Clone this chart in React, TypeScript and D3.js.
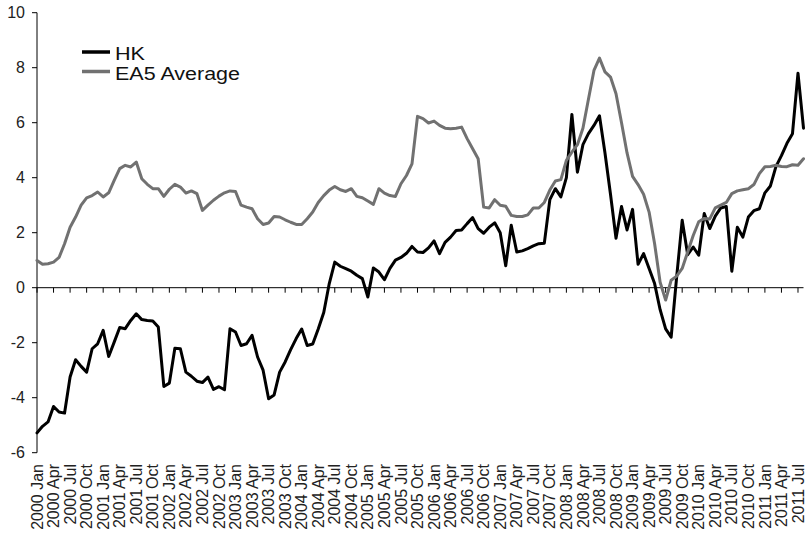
import React from "react";
import * as d3 from "d3";

const YEARS = [2000, 2001, 2002, 2003, 2004, 2005, 2006, 2007, 2008, 2009, 2010, 2011];
const MONTHS = ["Jan", "Feb", "Mar", "Apr", "May", "Jun", "Jul", "Aug", "Sep", "Oct", "Nov", "Dec"];
const N_MONTHS = 140; // 2000 Jan .. 2011 Aug
const Y_TICKS = [-6, -4, -2, 0, 2, 4, 6, 8, 10];

const HK = [
  -5.28, -5.04, -4.88, -4.32, -4.52, -4.56, -3.25, -2.62, -2.86, -3.07,
  -2.22, -2.04, -1.55, -2.5, -1.98, -1.45, -1.49, -1.19, -0.95, -1.16,
  -1.19, -1.21, -1.43, -3.59, -3.47, -2.2, -2.22, -3.07, -3.22, -3.4,
  -3.45, -3.25, -3.7, -3.6, -3.71, -1.49, -1.61, -2.1, -2.04, -1.73,
  -2.52, -3.0, -4.04, -3.9, -3.07, -2.7, -2.25, -1.85, -1.5, -2.1,
  -2.05, -1.5, -0.9, 0.15, 0.93, 0.78, 0.69, 0.6, 0.45, 0.33,
  -0.34, 0.72, 0.57, 0.29, 0.7, 1.0, 1.1, 1.25, 1.5, 1.3,
  1.28, 1.45, 1.7, 1.24, 1.65, 1.84, 2.08, 2.1, 2.33, 2.55,
  2.15, 1.98, 2.2, 2.36, 2.0, 0.8, 2.27, 1.3, 1.34, 1.42,
  1.52, 1.6, 1.62, 3.2, 3.6, 3.3, 4.0, 6.3, 4.2, 5.2,
  5.6, 5.9, 6.25, 4.9, 3.4, 1.8, 2.95, 2.1, 2.85, 0.85,
  1.24, 0.7, 0.15, -0.8, -1.5, -1.8, 0.39, 2.45, 1.2, 1.48,
  1.18, 2.7, 2.15, 2.6, 2.9, 2.95, 0.6, 2.2, 1.84, 2.57,
  2.8, 2.87, 3.45, 3.7, 4.4, 4.8, 5.25, 5.6, 7.8, 5.8,
];

const EA5 = [
  0.99, 0.85, 0.87, 0.93, 1.1, 1.6, 2.2, 2.57, 3.0, 3.27,
  3.35, 3.48, 3.3, 3.45, 3.9, 4.33, 4.45, 4.39, 4.57, 3.96,
  3.76, 3.6, 3.6, 3.32, 3.58, 3.76, 3.66, 3.44, 3.52, 3.42,
  2.81, 3.0, 3.18, 3.33, 3.45, 3.52, 3.5, 3.0, 2.93, 2.87,
  2.51, 2.3, 2.35, 2.59, 2.57, 2.47, 2.38, 2.3, 2.3, 2.51,
  2.75, 3.1, 3.35, 3.55, 3.68, 3.56, 3.5, 3.6, 3.32, 3.27,
  3.15, 3.03, 3.6, 3.44, 3.35, 3.32, 3.78, 4.08, 4.5, 6.23,
  6.15, 5.99, 6.06, 5.9, 5.8, 5.78, 5.8, 5.84, 5.42, 5.05,
  4.69, 2.93, 2.9, 3.2, 3.0, 2.96, 2.63, 2.59, 2.59, 2.65,
  2.9, 2.9, 3.1, 3.55, 3.88, 3.93, 4.63, 4.93, 5.2, 5.8,
  6.85, 7.9, 8.35, 7.85, 7.66, 7.05, 6.0, 4.9, 4.05, 3.75,
  3.4, 2.75, 1.6, 0.2, -0.45, 0.27, 0.42, 0.7, 1.3, 1.9,
  2.4, 2.52, 2.5, 2.9, 3.0, 3.1, 3.42, 3.52, 3.56, 3.6,
  3.75, 4.15, 4.4, 4.41, 4.45, 4.41, 4.4, 4.47, 4.45, 4.69,
];

const SERIES = [
  { name: "HK", values: HK, color: "#000000", labelWidth: 30 },
  { name: "EA5 Average", values: EA5, color: "#717171", labelWidth: 125 },
];

const CATEGORIES: string[] = [];
YEARS.forEach((yr) => MONTHS.forEach((m) => CATEGORIES.push(`${yr} ${m}`)));
const CATS = CATEGORIES.slice(0, N_MONTHS);

const W = 811;
const H = 536;
const FONT = "Arial, 'Liberation Sans', sans-serif";

export default function App() {
  const x = d3.scaleLinear().domain([0, N_MONTHS - 1]).range([37, 803.5]);
  const y = d3.scaleLinear().domain([-6, 10]).range([452.7, 12.7]);
  const line = d3
    .line<number>()
    .x((_, i) => x(i))
    .y((d) => y(d));

  const tickIdx = d3.range(0, N_MONTHS, 3).filter((i) => i <= 138);
  const y0 = y(0);

  return (
    <svg
      width={W}
      height={H}
      style={{ position: "absolute", left: 0, top: 0, background: "#fff" }}
      fontFamily={FONT}
    >
      <rect width={W} height={H} fill="#fff" />
      {/* y axis */}
      <line x1={x(0)} x2={x(0)} y1={y(10)} y2={y(-6)} stroke="#000" strokeWidth={1} />
      {Y_TICKS.map((t) => (
        <g key={t}>
          <line x1={x(0) - 5} x2={x(0)} y1={y(t)} y2={y(t)} stroke="#000" />
          <text x={25} y={y(t)} dy="0.35em" textAnchor="end" fontSize={16} fill="#222">
            {t}
          </text>
        </g>
      ))}
      {/* x axis at 0 */}
      <line x1={x(0)} x2={x(N_MONTHS - 1)} y1={y0} y2={y0} stroke="#000" strokeWidth={1} />
      {tickIdx.map((i) => (
        <line key={i} x1={x(i)} x2={x(i)} y1={y0} y2={y0 + 5} stroke="#000" />
      ))}
      {tickIdx.map((i) => (
        <text
          key={"l" + i}
          transform={`translate(${x(i)},464) rotate(-90)`}
          dy="0.35em"
          textAnchor="end"
          fontSize={16}
          fill="#222"
        >
          {CATS[i]}
        </text>
      ))}
      {/* series */}
      {SERIES.map((s) => (
        <path
          key={s.name}
          d={line(s.values) || ""}
          fill="none"
          stroke={s.color}
          strokeWidth={3}
          strokeLinejoin="round"
          strokeLinecap="round"
        />
      ))}
      {/* legend */}
      {SERIES.map((s, k) => (
        <g key={"lg" + s.name}>
          <line x1={82} x2={110} y1={52 + k * 19.5} y2={52 + k * 19.5} stroke={s.color} strokeWidth={3.5} />
          <text
            x={115}
            y={52 + k * 19.5 + 2}
            dy="0.35em"
            fontSize={17.5}
            fill="#111"
            textLength={s.labelWidth}
            lengthAdjust="spacingAndGlyphs"
          >
            {s.name}
          </text>
        </g>
      ))}
    </svg>
  );
}
